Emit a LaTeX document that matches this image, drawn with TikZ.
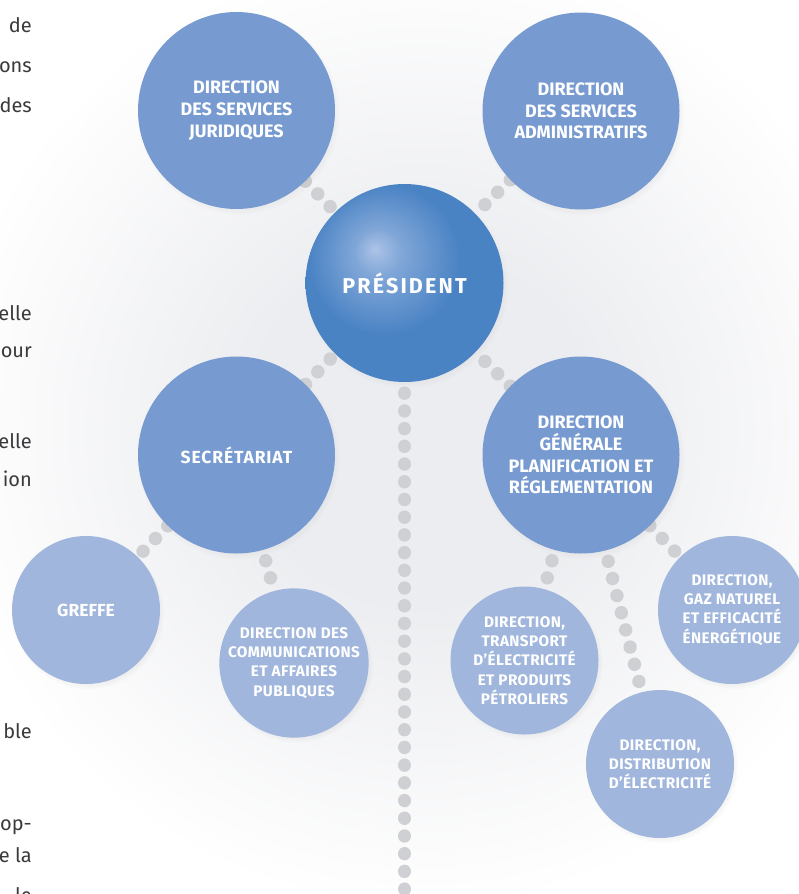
\documentclass[tikz,border=0pt]{standalone}
\usepackage{fontspec}
\setmainfont{Fira Sans}
\usetikzlibrary{shadows}

\definecolor{presbleu}{RGB}{74,131,196}
\definecolor{presclair}{RGB}{172,195,231}
\definecolor{dirbleu}{RGB}{119,155,208}
\definecolor{sousbleu}{RGB}{160,182,220}
\definecolor{pointgris}{RGB}{207,208,211}
\definecolor{halogris}{RGB}{236,237,240}
\definecolor{texte}{RGB}{58,58,60}

\pgfdeclareradialshading{reflet}{\pgfpoint{-7.5bp}{8.6bp}}{color(0bp)=(presclair); color(6bp)=(presclair!55!presbleu); color(19bp)=(presbleu); color(60bp)=(presbleu)}
\pgfdeclareradialshading{halo}{\pgfpoint{0bp}{0bp}}{color(0bp)=(halogris); color(9bp)=(halogris); color(25bp)=(white); color(50bp)=(white)}

\pgfdeclarelayer{fond}
\pgfdeclarelayer{liens}
\pgfsetlayers{fond,liens,main}

\tikzstyle{cercle}=[circle, inner sep=0pt, text=white, align=center,
circular drop shadow={shadow scale=1.03, shadow xshift=2pt, shadow yshift=-3pt, opacity=.16}]
\tikzstyle{direction}=[cercle, fill=dirbleu, minimum size=197pt,
font=\bfseries\fontsize{18}{21.7}\selectfont]
\tikzstyle{service}=[cercle, fill=sousbleu, minimum size=148pt,
font=\bfseries\fontsize{15.3}{19.2}\selectfont\addfontfeature{LetterSpace=2.5}]
\tikzstyle{dots}=[draw=pointgris, line width=13.4pt, line cap=round, dash pattern=on 0.01pt off 17.7pt]
\tikzstyle{fragment}=[anchor=base east, inner sep=0pt, text=texte, font=\fontsize{20}{24}\selectfont]

\begin{document}
\begin{tikzpicture}[x=1pt, y=-1pt]

	\useasboundingbox (0,0) rectangle (798,894);
	\begin{pgfonlayer}{fond}
	\fill[white] (0,0) rectangle (798,894);
	\shade[shading=halo] (420,430) circle (480);
	\end{pgfonlayer}

	%text column
	\foreach \y/\mot in {32/de, 72/ons, 112/des, 320/elle, 357/our, 448/elle,
	486/ion, 738/ble, 830/op-, 862/e la, 902/le}
		\node[fragment] (frag\y) at (32,\y) {\mot};

	\node[cercle, minimum size=198pt, shading=reflet,
	font=\bfseries\fontsize{21.5}{22}\selectfont\addfontfeature{LetterSpace=10}] (pres) at (404.5,283) {PRÉSIDENT};

	\node[direction] (jur) at (236.5,110.5) {DIRECTION\\DES SERVICES\\JURIDIQUES};
	\node[direction] (adm) at (581,111) {DIRECTION\\DES SERVICES\\ADMINISTRATIFS};
	\node[direction, font=\bfseries\fontsize{17.5}{21.7}\selectfont\addfontfeature{LetterSpace=5}] (secr) at (236.5,455) {SECRÉTARIAT};
	\node[direction] (dgpr) at (581,455) {DIRECTION\\GÉNÉRALE\\PLANIFICATION ET\\RÉGLEMENTATION};

	\node[service, font=\bfseries\fontsize{17.5}{20}\selectfont] (greffe) at (86,610) {GREFFE};
	\node[service] (comm) at (294,663) {DIRECTION DES\\COMMUNICATIONS\\ET AFFAIRES\\PUBLIQUES};
	\node[service] (transp) at (524.5,660.5) {DIRECTION,\\TRANSPORT\\D’ÉLECTRICITÉ\\ET PRODUITS\\PÉTROLIERS};
	\node[service] (gaz) at (732,610) {DIRECTION,\\GAZ NATUREL\\ET EFFICACITÉ\\ÉNERGÉTIQUE};
	\node[service] (distr) at (660,764) {DIRECTION,\\DISTRIBUTION\\D’ÉLECTRICITÉ};

	\coordinate (bas) at (404.5,910);

	\begin{pgfonlayer}{liens}
	\draw[dots] (jur) -- (pres);
	\draw[dots] (adm) -- (pres);
	\draw[dots] (secr) -- (pres);
	\draw[dots] (dgpr) -- (pres);
	\draw[dots, dash phase=6.7pt] (pres) -- (bas);
	\draw[dots] (secr) -- (greffe);
	\draw[dots, dash phase=6.7pt] (secr) -- (comm);
	\draw[dots, dash phase=6.7pt] (dgpr) -- (transp);
	\draw[dots, dash phase=6.7pt] (dgpr) -- (distr);
	\draw[dots] (dgpr) -- (gaz);
	\end{pgfonlayer}
\end{tikzpicture}
\end{document}
